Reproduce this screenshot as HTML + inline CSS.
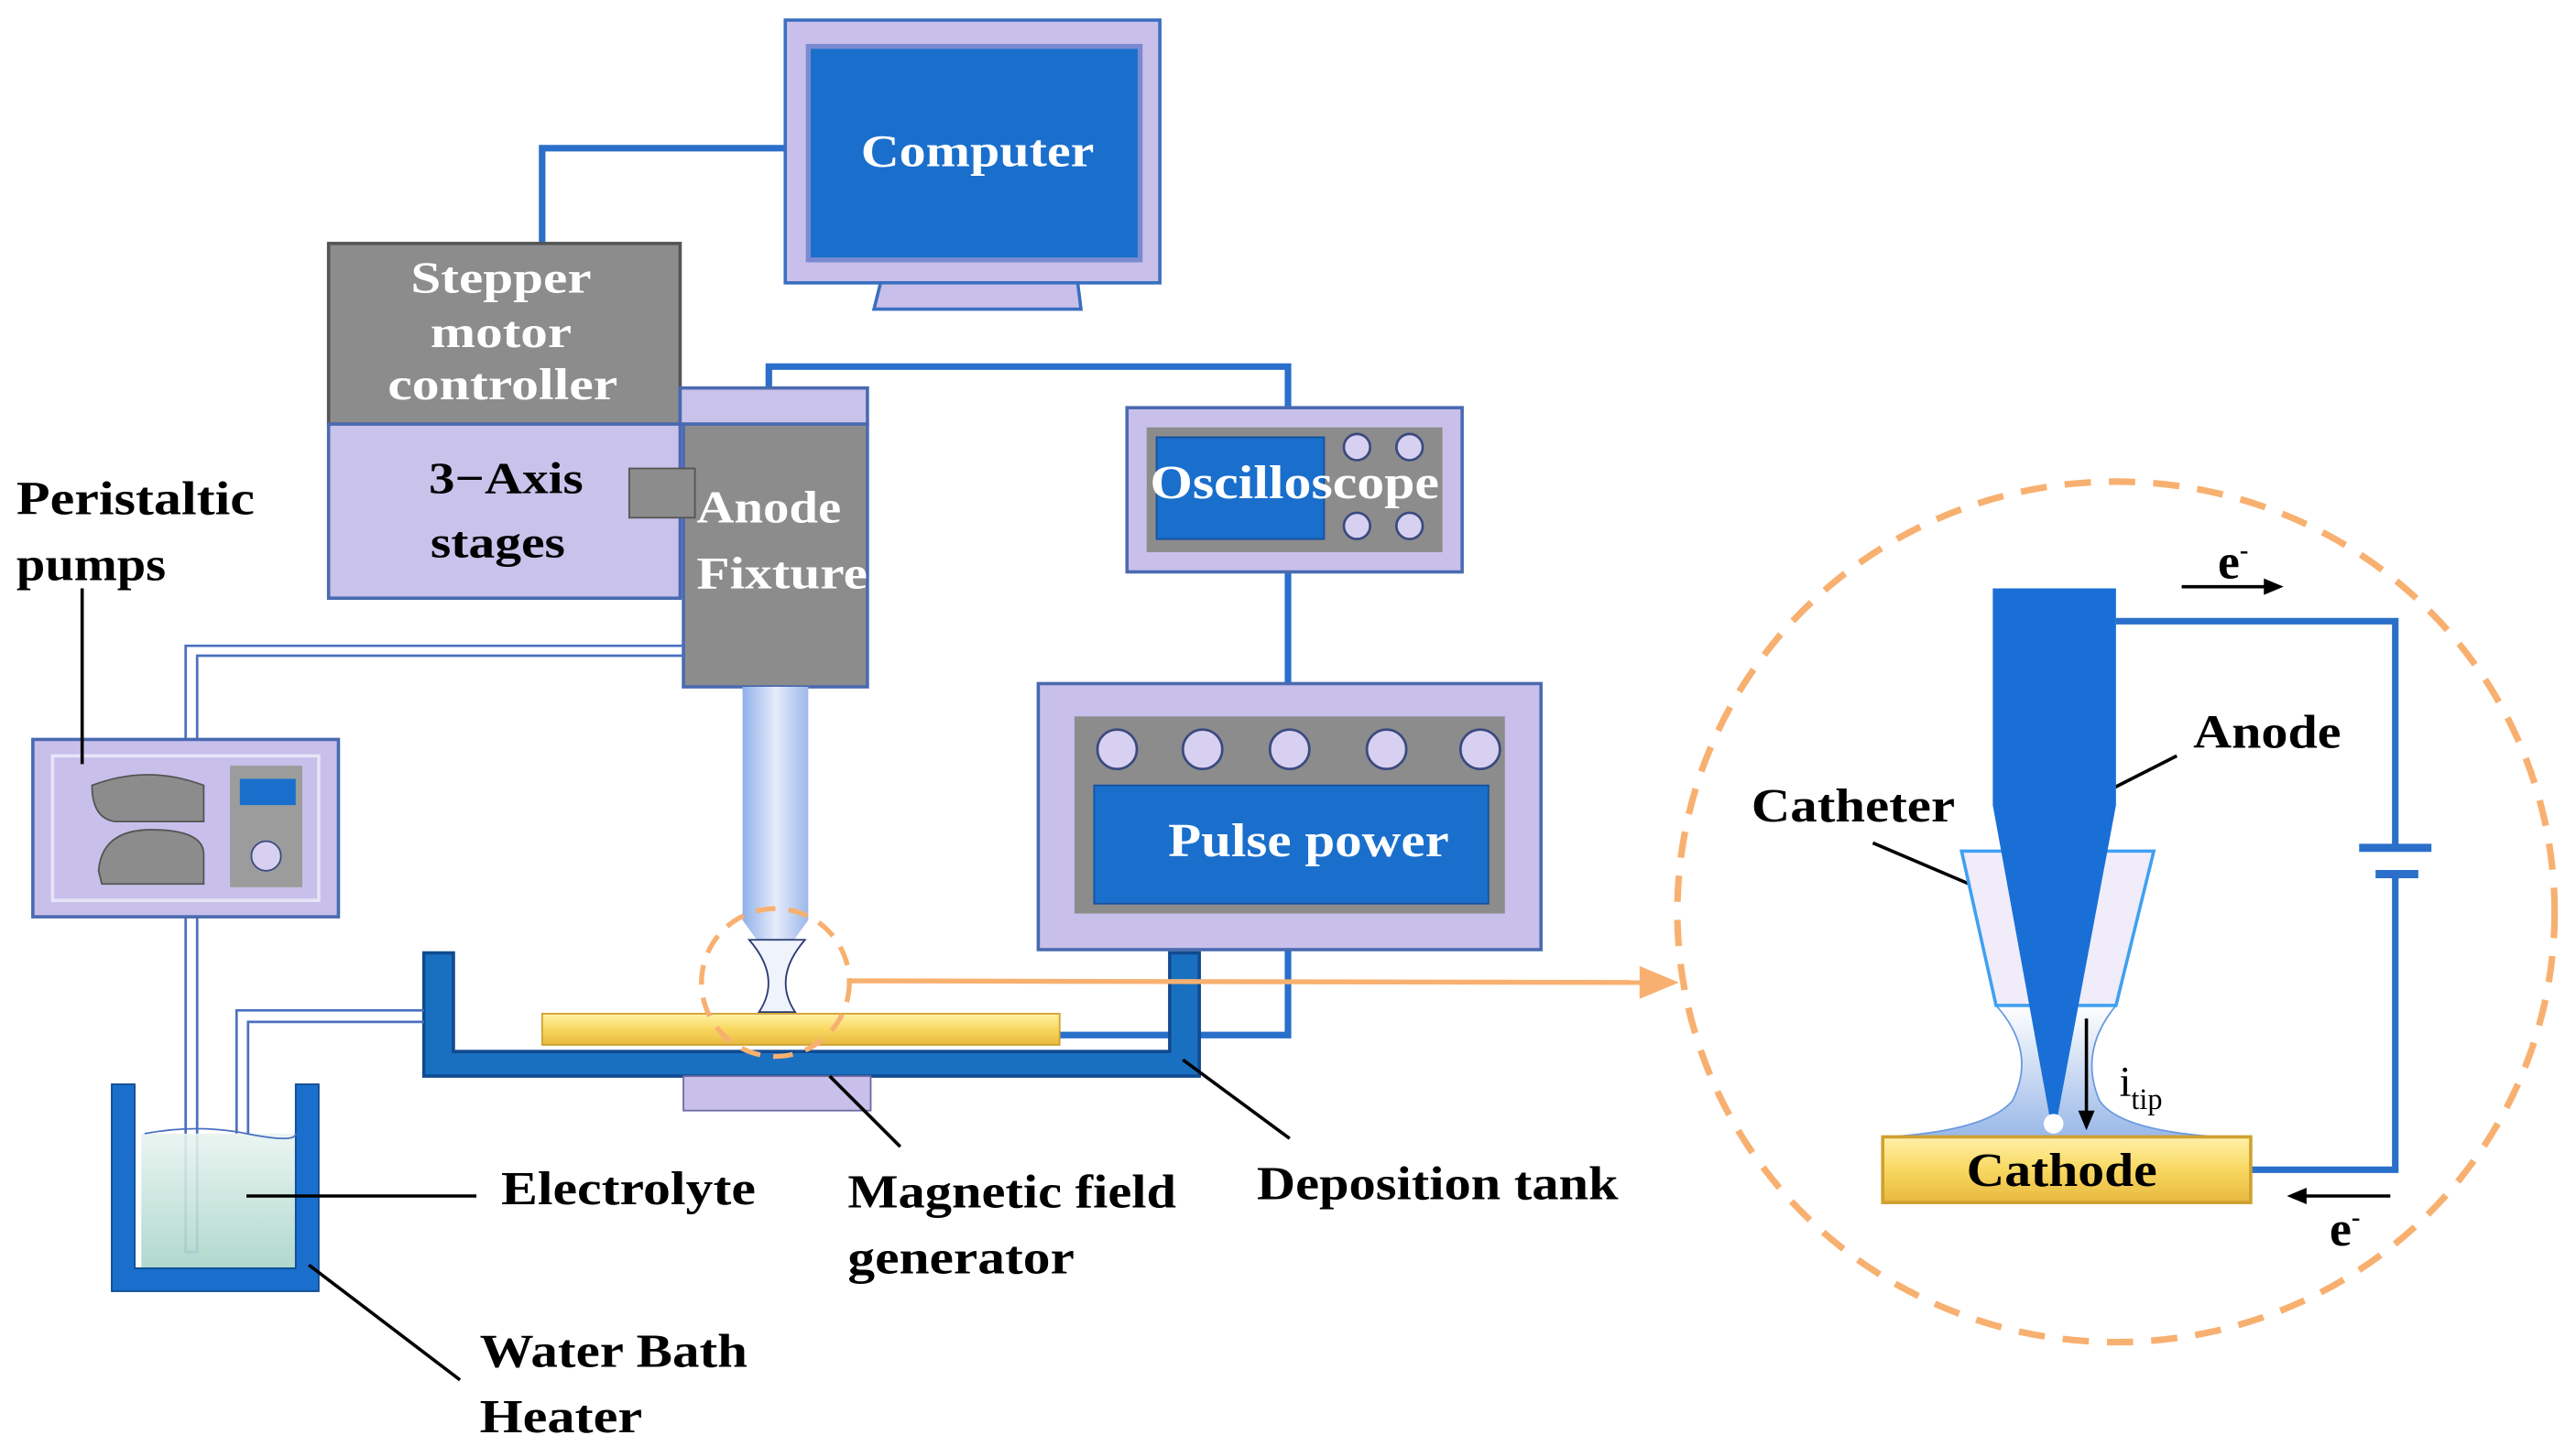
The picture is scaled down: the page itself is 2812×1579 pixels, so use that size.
<!DOCTYPE html>
<html><head><meta charset="utf-8"><style>
html,body{margin:0;padding:0;background:#fff;width:2812px;height:1579px;overflow:hidden}
svg{display:block}
text{font-family:"Liberation Serif",serif;font-weight:bold}
</style></head><body>
<svg width="2812" height="1579" viewBox="0 0 1568 880" xmlns="http://www.w3.org/2000/svg">
<defs>
<linearGradient id="tip" x1="0" x2="1"><stop offset="0" stop-color="#8fb0e8"/><stop offset="0.5" stop-color="#e6ecfb"/><stop offset="1" stop-color="#9db8ea"/></linearGradient>
<linearGradient id="men" x1="0" y1="0" x2="0" y2="1"><stop offset="0" stop-color="#ffffff"/><stop offset="1" stop-color="#9ab8e8"/></linearGradient>
<linearGradient id="gold" x1="0" y1="0" x2="0" y2="1"><stop offset="0" stop-color="#fff1a8"/><stop offset="0.5" stop-color="#f8d860"/><stop offset="1" stop-color="#e8b840"/></linearGradient>
<linearGradient id="liq" x1="0" y1="0" x2="0" y2="1"><stop offset="0" stop-color="#e8f4f0"/><stop offset="1" stop-color="#a8d4c8"/></linearGradient>
</defs>
<g stroke="#2a6fc9" stroke-width="4" fill="none">
<polyline points="478,90 330,90 330,148"/>
<polyline points="468,236 468,223 784,223 784,248"/>
<line x1="784" y1="348" x2="784" y2="416"/>
<polyline points="784,578 784,630 645,630"/>
<polyline points="1288,378 1458,378 1458,516"/>
<polyline points="1458,532 1458,712 1370,712"/>
</g>
<g stroke="#2a6fc9" stroke-width="5"><line x1="1436" y1="516" x2="1480" y2="516"/><line x1="1446" y1="532" x2="1472" y2="532"/></g>
<!-- computer -->
<rect x="478" y="12" width="228" height="160" fill="#c8c0ea" stroke="#3a6fc0" stroke-width="2"/>
<rect x="492" y="28" width="202" height="130" fill="#1a6fcc" stroke="#7a8ad0" stroke-width="3"/>
<polygon points="536,172 656,172 658,188 532,188" fill="#c8c0ea" stroke="#3a6fc0" stroke-width="2"/>
<text x="524" y="101" fill="#fff" font-size="28" textLength="142" lengthAdjust="spacingAndGlyphs">Computer</text>
<!-- stepper -->
<rect x="200" y="148" width="214" height="110" fill="#8c8c8c" stroke="#555" stroke-width="2"/>
<g fill="#fff" font-size="27"><text x="250" y="178" textLength="110" lengthAdjust="spacingAndGlyphs">Stepper</text><text x="262" y="211" textLength="86" lengthAdjust="spacingAndGlyphs">motor</text><text x="236" y="243" textLength="140" lengthAdjust="spacingAndGlyphs">controller</text></g>
<rect x="200" y="258" width="214" height="106" fill="#c9c2ea" stroke="#4a6ab0" stroke-width="2"/>
<g fill="#000" font-size="27"><text x="261" y="300" textLength="94" lengthAdjust="spacingAndGlyphs">3−Axis</text><text x="262" y="339" textLength="82" lengthAdjust="spacingAndGlyphs">stages</text></g>
<rect x="414" y="236" width="114" height="22" fill="#c9c2ea" stroke="#4a6ab0" stroke-width="2"/>
<rect x="416" y="258" width="112" height="160" fill="#8c8c8c" stroke="#4a6ab0" stroke-width="2"/>
<rect x="383" y="285" width="40" height="30" fill="#8c8c8c" stroke="#555" stroke-width="1"/>
<g fill="#fff" font-size="28"><text x="424" y="318" textLength="88" lengthAdjust="spacingAndGlyphs">Anode</text><text x="424" y="358" textLength="104" lengthAdjust="spacingAndGlyphs">Fixture</text></g>
<!-- oscilloscope -->
<rect x="686" y="248" width="204" height="100" fill="#c8c0ea" stroke="#4a6ab0" stroke-width="2"/>
<rect x="698" y="260" width="180" height="76" fill="#8c8c8c"/>
<rect x="704" y="266" width="102" height="62" fill="#1a6fcc" stroke="#1550a0"/>
<g fill="#d8d0f0" stroke="#3a4a80" stroke-width="1.5"><circle cx="826" cy="272" r="8"/><circle cx="858" cy="272" r="8"/><circle cx="826" cy="320" r="8"/><circle cx="858" cy="320" r="8"/></g>
<text x="700" y="303" fill="#fff" font-size="29" textLength="176" lengthAdjust="spacingAndGlyphs">Oscilloscope</text>
<!-- pulse power -->
<rect x="632" y="416" width="306" height="162" fill="#c8c0ea" stroke="#4a6ab0" stroke-width="2"/>
<rect x="654" y="436" width="262" height="120" fill="#8c8c8c"/>
<g fill="#d8d0f0" stroke="#3a4a80" stroke-width="1.5"><circle cx="680" cy="456" r="12"/><circle cx="732" cy="456" r="12"/><circle cx="785" cy="456" r="12"/><circle cx="844" cy="456" r="12"/><circle cx="901" cy="456" r="12"/></g>
<rect x="666" y="478" width="240" height="72" fill="#1a6fcc" stroke="#1550a0"/>
<text x="711" y="521" fill="#fff" font-size="29" textLength="171" lengthAdjust="spacingAndGlyphs">Pulse power</text>
<!-- tank -->
<path d="M258,580 H276 V640 H712 V580 H730 V655 H258 Z" fill="#1a70c0" stroke="#104a90" stroke-width="2"/>
<rect x="330" y="617" width="315" height="19" fill="url(#gold)" stroke="#d0a030"/>
<rect x="416" y="655" width="114" height="21" fill="#c8c0ea" stroke="#6a6aa0"/>
<!-- anode tip -->
<path d="M452,418 H492 V560 L474,585 L470,585 L452,560 Z" fill="url(#tip)"/>
<path d="M456,572 Q476,595 462,616 H484 Q470,595 490,572 Z" fill="#eef3fc" stroke="#2a3a70" stroke-width="1"/>
<circle cx="472" cy="598" r="45" fill="none" stroke="#f8b070" stroke-width="3" stroke-dasharray="12,8"/>
<line x1="518" y1="597" x2="1000" y2="598" stroke="#f8b070" stroke-width="3"/>
<polygon points="998,588 1022,598 998,608" fill="#f8b070"/>
<!-- pump -->
<g stroke="#4a70c0" stroke-width="1.5" fill="none">
<polyline points="113,450 113,393 416,393"/><polyline points="120,450 120,399 416,399"/>
<polyline points="113,558 113,762 120,762 120,558"/>
<polyline points="144,690 144,615 258,615"/><polyline points="151,690 151,622 258,622"/>
</g>
<rect x="20" y="450" width="186" height="108" fill="#c8c0ea" stroke="#4a6ab0" stroke-width="2"/>
<rect x="32" y="460" width="162" height="88" fill="none" stroke="#e8e4f8" stroke-width="2"/>
<path d="M56,478 Q90,465 124,478 V500 H70 Q56,498 56,478 Z" fill="#8c8c8c" stroke="#555"/>
<path d="M60,530 Q62,505 92,505 Q124,505 124,520 V538 H62 Z" fill="#8c8c8c" stroke="#555"/>
<rect x="140" y="466" width="44" height="74" fill="#9c9c9c"/>
<rect x="146" y="474" width="34" height="16" fill="#1a6fcc"/>
<circle cx="162" cy="521" r="9" fill="#d8d0f0" stroke="#3a4a80"/>
<!-- beaker -->
<rect x="86" y="690" width="94" height="82" fill="url(#liq)" opacity="0.9"/>
<path d="M68,660 H82 V772 H180 V660 H194 V786 H68 Z" fill="#1a6fcc" stroke="#104a90"/>
<path d="M88,690 Q120,684 150,690 T180,690" fill="none" stroke="#4a70c0"/>
<!-- leader lines -->
<g stroke="#000" stroke-width="2">
<line x1="50" y1="358" x2="50" y2="465"/>
<line x1="150" y1="728" x2="290" y2="728"/>
<line x1="188" y1="770" x2="280" y2="840"/>
<line x1="505" y1="655" x2="548" y2="698"/>
<line x1="720" y1="645" x2="785" y2="693"/>
<line x1="1262" y1="492" x2="1325" y2="460"/>
<line x1="1140" y1="513" x2="1215" y2="545"/>
</g>
<g font-size="29" fill="#000" lengthAdjust="spacingAndGlyphs">
<text x="10" y="313" textLength="145" lengthAdjust="spacingAndGlyphs">Peristaltic</text><text x="10" y="353" textLength="91" lengthAdjust="spacingAndGlyphs">pumps</text>
<text x="305" y="733" textLength="155" lengthAdjust="spacingAndGlyphs">Electrolyte</text>
<text x="292" y="832" textLength="163" lengthAdjust="spacingAndGlyphs">Water Bath</text><text x="292" y="872" textLength="99" lengthAdjust="spacingAndGlyphs">Heater</text>
<text x="516" y="735" textLength="200" lengthAdjust="spacingAndGlyphs">Magnetic field</text><text x="516" y="775" textLength="138" lengthAdjust="spacingAndGlyphs">generator</text>
<text x="765" y="730" textLength="220" lengthAdjust="spacingAndGlyphs">Deposition tank</text>
<text x="1335" y="455" textLength="90" lengthAdjust="spacingAndGlyphs">Anode</text>
<text x="1066" y="500" textLength="124" lengthAdjust="spacingAndGlyphs">Catheter</text>
</g>
<!-- zoomed view -->
<ellipse cx="1288" cy="555" rx="267" ry="262" fill="none" stroke="#f8b070" stroke-width="4" stroke-dasharray="16,11"/>
<path d="M1215,612 Q1240,640 1225,670 Q1210,688 1150,692 H1350 Q1290,688 1278,670 Q1265,640 1288,612 Z" fill="url(#men)" stroke="#6a9ae0" stroke-width="1"/>
<polygon points="1194,518 1311,518 1288,612 1215,612" fill="#f0ecfa" stroke="#40a0f0" stroke-width="2"/>
<path d="M1213,358 H1288 V490 L1252,682 L1248,682 L1213,490 Z" fill="#1a6fd6"/>
<circle cx="1250" cy="684" r="6" fill="#fff"/>
<rect x="1146" y="692" width="224" height="40" fill="url(#gold)" stroke="#d0a030" stroke-width="2"/>
<text x="1197" y="722" font-size="29" fill="#000" textLength="116" lengthAdjust="spacingAndGlyphs">Cathode</text>
<g stroke="#000" stroke-width="2"><line x1="1270" y1="620" x2="1270" y2="678"/><line x1="1328" y1="357" x2="1380" y2="357"/><line x1="1455" y1="728" x2="1402" y2="728"/></g>
<polygon points="1265,676 1275,676 1270,688" fill="#000"/>
<polygon points="1378,352 1390,357 1378,362" fill="#000"/>
<polygon points="1404,723 1392,728 1404,733" fill="#000"/>
<text x="1290" y="667" font-size="26" style="font-weight:normal">i<tspan font-size="18" dy="8">tip</tspan></text>
<text x="1350" y="352" font-size="30">e<tspan font-size="16" dy="-12">-</tspan></text>
<text x="1418" y="758" font-size="30">e<tspan font-size="16" dy="-12">-</tspan></text>
</svg>
</body></html>
